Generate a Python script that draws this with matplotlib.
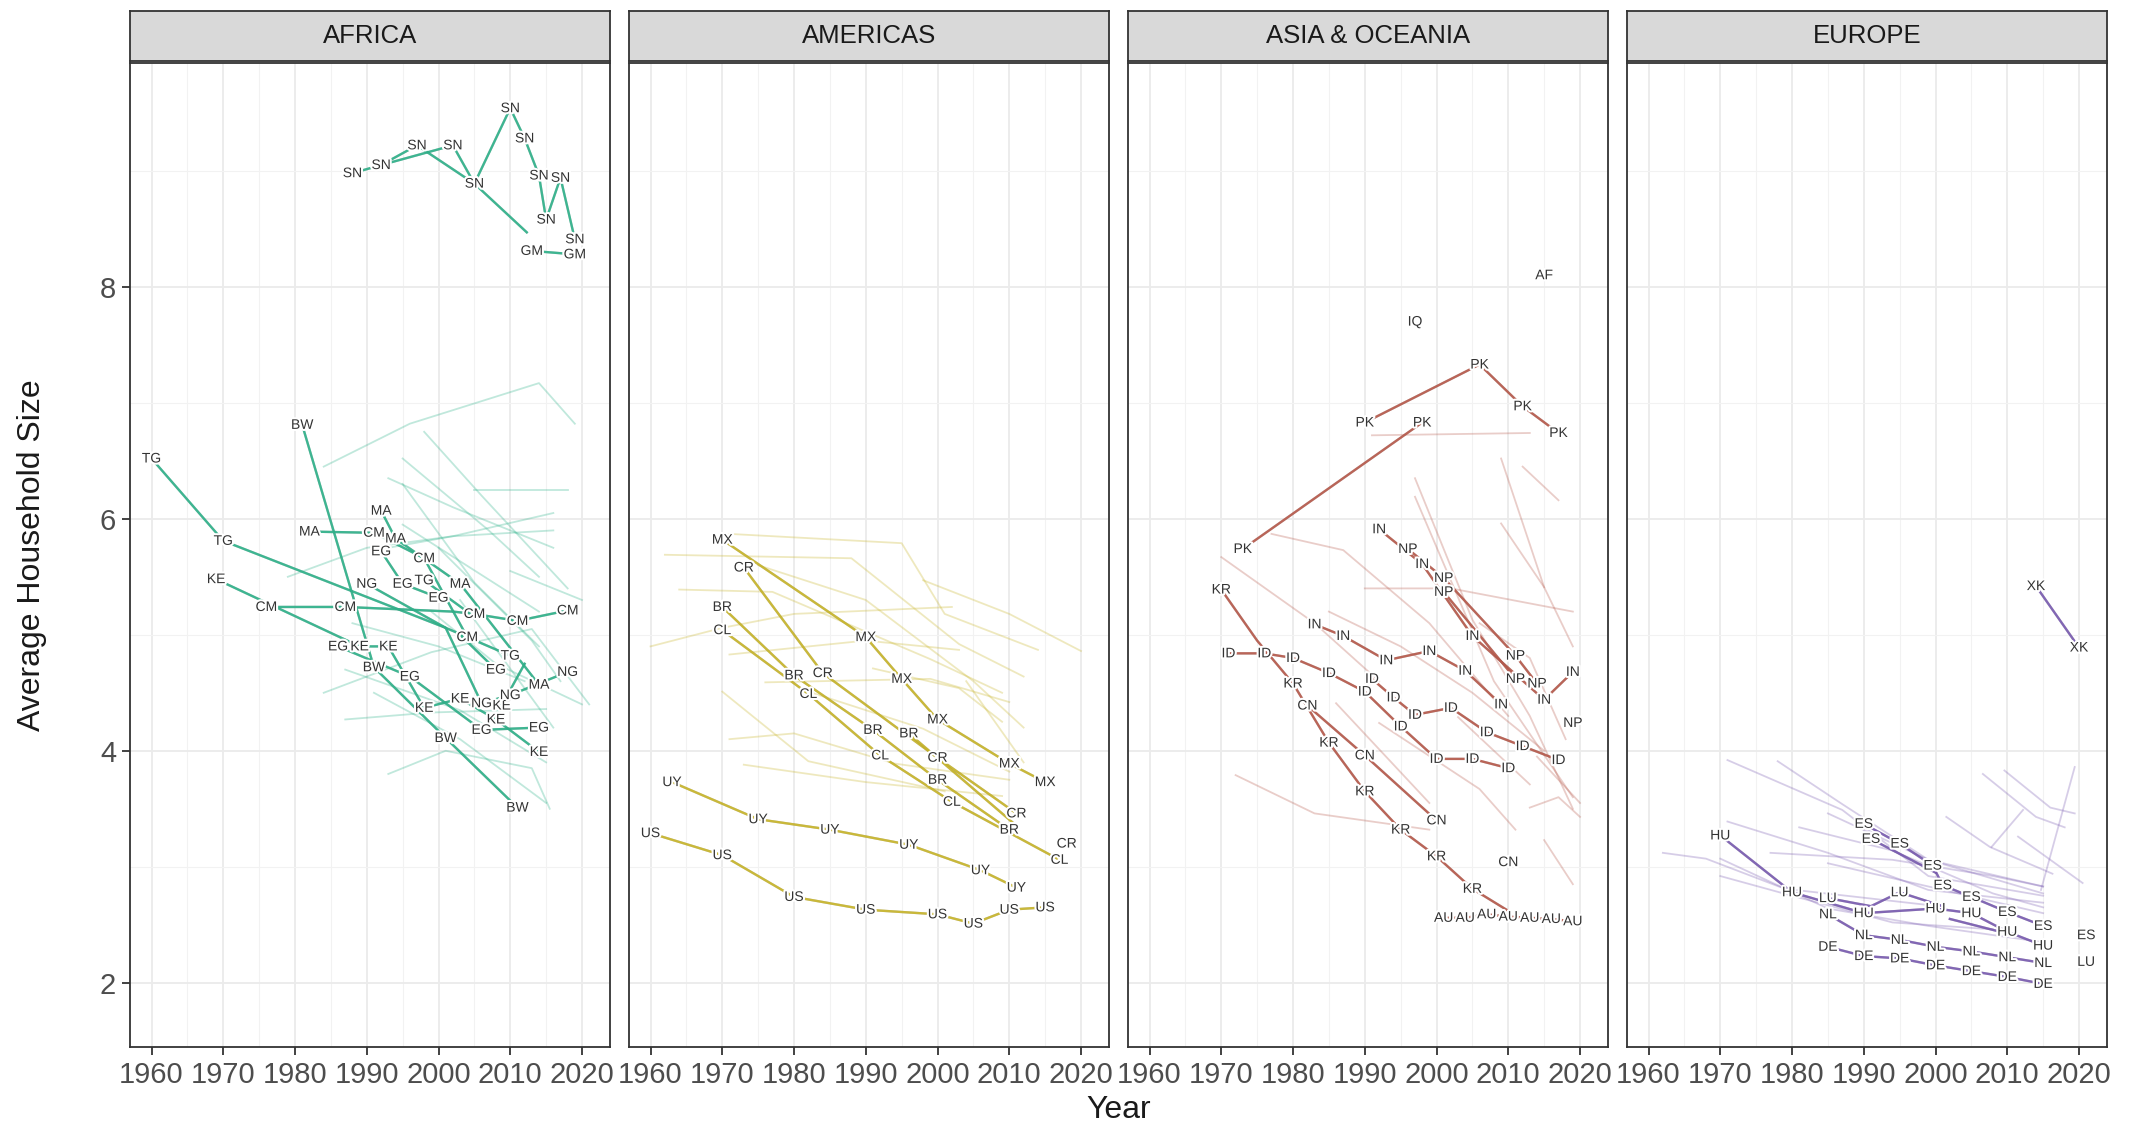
import matplotlib.pyplot as plt
import matplotlib.patheffects as pe
from matplotlib.ticker import MultipleLocator

plt.rcParams['font.family'] = ['Liberation Sans', 'DejaVu Sans']

REGIONS = ['AFRICA', 'AMERICAS', 'ASIA & OCEANIA', 'EUROPE']
COLORS = ['#2fb38b', '#c9b62a', '#b85a4c', '#7a5cb2']
YEAR_TICKS = [1960, 1970, 1980, 1990, 2000, 2010, 2020]
SIZE_TICKS = [2, 4, 6, 8]

# highlighted series: (code, years, sizes, indices without a label)
africa_paths = [
    ('SN', [1988, 1992, 2002, 2005, 2010, 2012, 2014, 2015, 2017, 2019],
     [8.98, 9.05, 9.22, 8.89, 9.54, 9.28, 8.96, 8.58, 8.94, 8.41], []),
    ('SN', [1992, 1997, 2005, 2012.3], [9.05, 9.22, 8.89, 8.47], [3]),
    ('GM', [2013, 2019], [8.31, 8.28], []),
    ('TG', [1960, 1970, 2001, 2010], [6.52, 5.81, 5.06, 4.82], [2]),
    ('TG', [1998, 2004], [5.47, 5.2], [1]),
    ('BW', [1981, 1991, 2001, 2011], [6.81, 4.72, 4.11, 3.51], []),
    ('KE', [1969, 1989, 1993, 1998, 2003, 2008, 2014],
     [5.48, 4.90, 4.90, 4.37, 4.45, 4.27, 3.99], []),
    ('KE', [2008.8, 2012], [4.39, 4.75], [1]),
    ('CM', [1976, 1987, 2002, 2005, 2011, 2018], [5.24, 5.24, 5.2, 5.18, 5.12, 5.21], [2]),
    ('CM', [1991, 1998, 2004], [5.88, 5.66, 4.98], []),
    ('MA', [1982, 1990.5], [5.89, 5.88], [1]),
    ('MA', [1992, 1994, 2003, 2014], [6.07, 5.83, 5.44, 4.57], []),
    ('EG', [1992, 1995, 2000], [5.72, 5.44, 5.32], []),
    ('EG', [1986, 1996, 2006, 2014], [4.90, 4.64, 4.18, 4.20], []),
    ('EG', [2003, 2008], [5.0, 4.70], [0]),
    ('NG', [1990, 2001, 2006, 2010, 2018], [5.44, 5.06, 4.41, 4.48, 4.68], [1]),
]
americas_paths = [
    ('MX', [1970, 1990, 1995, 2000, 2010, 2015], [5.82, 4.98, 4.62, 4.27, 3.89, 3.73], []),
    ('CR', [1973, 1984, 2000, 2011], [5.58, 4.67, 3.94, 3.46], []),
    ('CR', [2018], [3.20], []),
    ('BR', [1970, 1980, 1991, 2000, 2010], [5.24, 4.65, 4.18, 3.75, 3.32], []),
    ('BR', [1996, 2010.5], [4.15, 3.38], [1]),
    ('CL', [1970, 1982, 1992, 2002, 2017], [5.04, 4.49, 3.96, 3.56, 3.06], []),
    ('UY', [1963, 1975, 1985, 1996, 2006, 2011], [3.73, 3.41, 3.32, 3.19, 2.97, 2.82], []),
    ('US', [1960, 1970, 1980, 1990, 2000, 2005, 2010, 2015],
     [3.29, 3.10, 2.74, 2.63, 2.59, 2.51, 2.63, 2.65], []),
]
asia_paths = [
    ('AF', [2015], [8.10], []),
    ('IQ', [1997], [7.70], []),
    ('PK', [1990, 2006, 2012, 2017], [6.83, 7.33, 6.97, 6.74], []),
    ('PK', [1973, 1998], [5.74, 6.83], []),
    ('KR', [1970, 1975, 1980, 1985, 1990, 1995, 2000, 2005, 2010],
     [5.39, 4.95, 4.58, 4.07, 3.65, 3.32, 3.09, 2.81, 2.62], [1, 8]),
    ('CN', [1982, 1990, 2000], [4.39, 3.96, 3.40], []),
    ('CN', [2010], [3.04], []),
    ('ID', [1971, 1976, 1980, 1985, 1990, 1995, 2000, 2005, 2010],
     [4.84, 4.84, 4.80, 4.67, 4.51, 4.21, 3.93, 3.93, 3.85], []),
    ('ID', [1991, 1994, 1997, 2002, 2007, 2012, 2017],
     [4.62, 4.46, 4.31, 4.37, 4.16, 4.04, 3.92], []),
    ('IN', [1983, 1987, 1993, 1999, 2004, 2009], [5.09, 4.99, 4.78, 4.86, 4.69, 4.40], []),
    ('IN', [1992, 1998, 2005, 2015, 2019], [5.91, 5.61, 4.99, 4.44, 4.68], []),
    ('NP', [1996, 2001, 2011, 2014], [5.74, 5.49, 4.82, 4.58], []),
    ('NP', [2001, 2011], [5.37, 4.62], []),
    ('NP', [2019], [4.24], []),
    ('AU', [2001, 2004, 2007, 2010, 2013, 2016, 2019],
     [2.56, 2.56, 2.59, 2.57, 2.56, 2.55, 2.53], []),
]
europe_paths = [
    ('XK', [2014, 2020], [5.42, 4.89], []),
    ('HU', [1970, 1980, 1990, 2000, 2005, 2010, 2015],
     [3.27, 2.78, 2.60, 2.64, 2.60, 2.44, 2.32], []),
    ('HU', [2002, 2009], [2.55, 2.44], [0, 1]),
    ('LU', [1985, 1991, 1995, 2001], [2.73, 2.66, 2.78, 2.66], [1, 3]),
    ('LU', [2021], [2.18], []),
    ('ES', [1990, 1995, 1999.6, 2001, 2005, 2010, 2015],
     [3.37, 3.20, 3.01, 2.84, 2.74, 2.61, 2.49], []),
    ('ES', [1991, 2000], [3.24, 2.95], [1]),
    ('ES', [2021], [2.41], []),
    ('NL', [1985, 1990, 1995, 2000, 2005, 2010, 2015],
     [2.59, 2.41, 2.37, 2.31, 2.27, 2.22, 2.17], []),
    ('DE', [1985, 1990, 1995, 2000, 2005, 2010, 2015],
     [2.31, 2.23, 2.21, 2.15, 2.10, 2.05, 1.99], []),
]

# other countries, drawn faint: (years, sizes)
africa_faint = [
    ([1984, 1996, 2014, 2019], [6.45, 6.82, 7.17, 6.82]),
    ([1998, 2006, 2018], [6.75, 6.2, 5.4]),
    ([1993, 2002, 2016], [6.35, 6.1, 5.75]),
    ([1995, 2007, 2014], [6.52, 5.9, 5.5]),
    ([2005, 2018], [6.25, 6.25]),
    ([1993, 2002, 2016], [5.75, 5.85, 6.05]),
    ([1995, 2005, 2014], [6.3, 5.45, 4.9]),
    ([1979, 1990, 2002, 2016], [5.5, 5.75, 5.85, 5.9]),
    ([1984, 1999, 2013, 2021], [4.5, 4.85, 5.05, 4.4]),
    ([1987, 1999, 2015], [4.27, 4.33, 4.36]),
    ([1993, 2001, 2013, 2015.5], [3.8, 4.0, 3.85, 3.5]),
    ([1991, 2003, 2015], [4.5, 4.1, 3.55]),
    ([1987, 2003, 2015], [4.7, 4.35, 3.9]),
    ([1999, 2008, 2020], [5.2, 4.75, 4.4]),
    ([2010, 2020], [5.55, 5.3]),
    ([1995, 2014], [5.95, 5.2]),
    ([2000, 2013, 2017], [5.75, 4.95, 4.6]),
    ([1988, 2000, 2012], [5.1, 4.9, 4.6]),
    ([2003, 2016], [5.3, 4.2]),
]
americas_faint = [
    ([1971, 1995, 2001, 2014], [5.87, 5.79, 5.18, 4.87]),
    ([1962, 1988, 2003, 2012], [5.69, 5.66, 4.92, 4.64]),
    ([1964, 1977, 1999, 2009], [5.39, 5.37, 4.79, 4.50]),
    ([1960, 1970, 1980, 2002], [4.90, 5.06, 5.18, 5.24]),
    ([1971, 1990, 2003], [4.83, 4.95, 4.87]),
    ([1976, 1999, 2010], [4.59, 4.62, 4.42]),
    ([1970, 1982, 2001], [4.51, 3.91, 3.65]),
    ([1971, 1980, 1994, 2010], [4.10, 4.15, 3.89, 3.75]),
    ([1998, 2010, 2020], [5.47, 5.18, 4.86]),
    ([1982, 1998, 2010], [4.51, 4.19, 3.82]),
    ([1991, 2003, 2009], [4.71, 4.54, 4.25]),
    ([1973, 1990, 2009], [3.88, 3.73, 3.61]),
    ([1975, 1990, 2005, 2012], [5.6, 5.3, 4.6, 4.2]),
    ([2004, 2012], [4.6, 3.9]),
]
asia_faint = [
    ([1991, 2013], [6.72, 6.74]),
    ([1997, 2005, 2013, 2019], [6.35, 5.13, 4.3, 3.5]),
    ([1997, 2008, 2019], [6.19, 4.6, 3.6]),
    ([2009, 2015], [6.52, 5.41]),
    ([2012, 2017], [6.45, 6.16]),
    ([2009, 2015, 2019], [5.96, 5.41, 4.9]),
    ([1970, 1983, 1992], [5.67, 5.10, 4.6]),
    ([1977, 1987, 1999, 2010], [5.87, 5.73, 5.10, 4.3]),
    ([1990, 2002, 2019], [5.4, 5.4, 5.2]),
    ([1972, 1983, 1999], [3.79, 3.46, 3.32]),
    ([2015, 2019], [3.23, 2.85]),
    ([2013, 2017, 2020], [3.51, 3.60, 3.43]),
    ([1986, 1999], [4.41, 3.55]),
    ([1992, 2006, 2011], [4.24, 3.67, 3.32]),
    ([2003, 2013], [4.29, 3.71]),
    ([2014, 2020], [3.95, 3.55]),
    ([1985, 1995, 2005, 2015], [5.2, 4.9, 4.5, 4.0]),
    ([2006, 2013, 2018], [5.1, 4.8, 4.1]),
]
europe_faint = [
    ([1971, 1987, 1999, 2015], [3.92, 3.49, 2.92, 2.75]),
    ([1978, 1987, 1999, 2015], [3.91, 3.54, 3.06, 2.77]),
    ([1971, 1985, 1999, 2015], [3.39, 3.12, 2.80, 2.69]),
    ([1962, 1968, 1979, 1999], [3.12, 3.07, 2.81, 2.67]),
    ([1970, 1980, 1994, 2008], [2.92, 2.75, 2.52, 2.46]),
    ([1981, 1994, 2008, 2015], [3.34, 3.14, 2.77, 2.65]),
    ([1985, 1999, 2015], [3.46, 3.06, 2.83]),
    ([1977, 1994, 2008, 2015], [3.12, 3.06, 2.92, 2.83]),
    ([1985, 1999, 2015], [3.03, 2.83, 2.60]),
    ([2001.5, 2007.6, 2016.3], [3.43, 3.17, 2.94]),
    ([2006.6, 2014, 2018], [3.80, 3.43, 3.34]),
    ([2009.6, 2016, 2019.4], [3.83, 3.51, 3.46]),
    ([2011.5, 2020.5], [3.26, 2.86]),
    ([2014.7, 2019.4], [2.80, 3.86]),
    ([2007.8, 2012.2], [3.17, 3.49]),
    ([1970, 1985, 1999, 2015], [3.07, 2.64, 2.49, 2.35]),
]

all_paths = [africa_paths, americas_paths, asia_paths, europe_paths]
all_faint = [africa_faint, americas_faint, asia_faint, europe_faint]

W, H = 2131, 1131
fig = plt.figure(figsize=(W / 100, H / 100), dpi=100)

halo = [pe.withStroke(linewidth=3, foreground='white')]

for i, region in enumerate(REGIONS):
    left = (130 + 499 * i) / W
    ax = fig.add_axes([left, 84 / H, 480 / W, 984 / H])
    col = COLORS[i]

    for yrs, vals in all_faint[i]:
        ax.plot(yrs, vals, color=col, alpha=0.3, lw=1.3, zorder=1)

    done = set()
    for code, yrs, vals, skip in all_paths[i]:
        ax.plot(yrs, vals, color=col, alpha=0.9, lw=1.7, zorder=2,
                path_effects=[pe.Stroke(linewidth=1.7, foreground='#333333', alpha=0.25), pe.Normal()])
        for k, (yr, v) in enumerate(zip(yrs, vals)):
            if k in skip or (code, yr, v) in done:
                continue
            done.add((code, yr, v))
            ax.text(yr, v, code, ha='center', va='center', fontsize=10,
                    color='#333333', zorder=3, path_effects=halo)

    ax.set_xlim(1957.0, 2023.9)
    ax.set_ylim(1.446, 9.93)
    ax.set_xticks(YEAR_TICKS)
    ax.xaxis.set_minor_locator(MultipleLocator(5))
    ax.set_yticks(SIZE_TICKS)
    ax.yaxis.set_minor_locator(MultipleLocator(1))
    ax.grid(which='major', color='#ebebeb', lw=1.3, zorder=0)
    ax.grid(which='minor', color='#f2f2f2', lw=0.8, zorder=0)
    ax.set_axisbelow(True)
    ax.tick_params(which='minor', length=0)
    ax.tick_params(which='major', direction='out', length=6, width=1.3,
                   color='#333333', labelsize=21, labelcolor='#4d4d4d', pad=4)
    if i > 0:
        ax.tick_params(axis='y', length=0, labelleft=False)
    for s in ax.spines.values():
        s.set_color('#333333')
        s.set_linewidth(1.3)

    strip = fig.add_axes([left, (H - 61) / H, 480 / W, 50 / H])
    strip.set_facecolor('#d9d9d9')
    strip.set_xticks([])
    strip.set_yticks([])
    for s in strip.spines.values():
        s.set_color('#333333')
        s.set_linewidth(1.3)
    strip.text(0.5, 0.5, region, ha='center', va='center', fontsize=18.5,
               color='#1a1a1a', transform=strip.transAxes)

fig.text(1119 / W, (H - 1110) / H, 'Year', ha='center', va='center', fontsize=23, color='#1a1a1a')
fig.text(32 / W, (H - 555) / H, 'Average Household Size', ha='center', va='center',
         rotation=90, fontsize=23, color='#1a1a1a')

fig.savefig('out.png', dpi=100)
